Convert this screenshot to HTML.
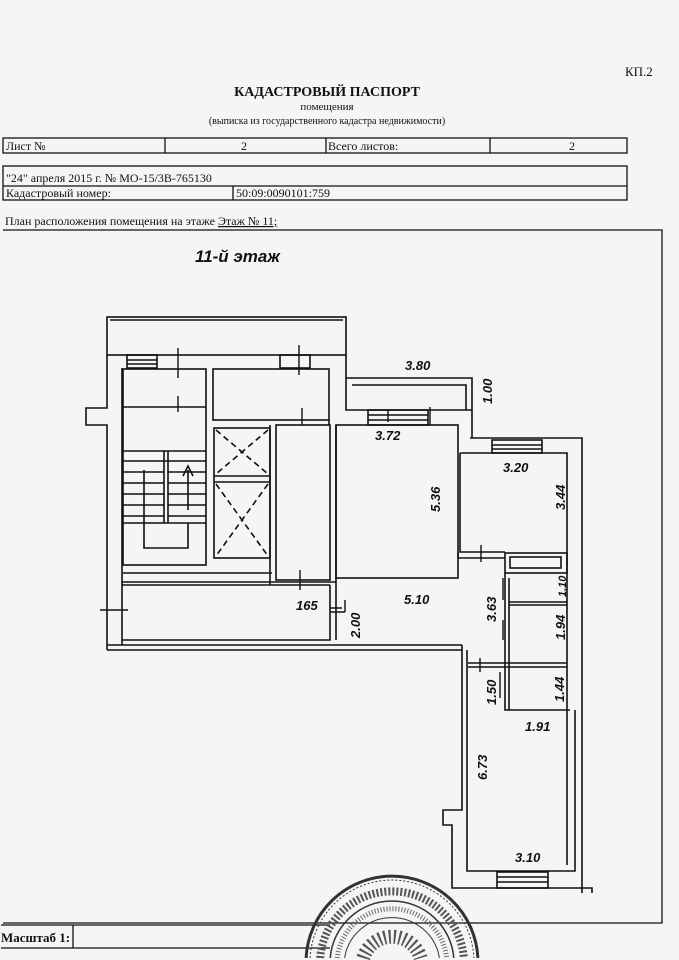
<!DOCTYPE html>
<html><head><meta charset="utf-8"><style>
html,body{margin:0;padding:0;width:679px;height:960px;overflow:hidden;background:#f4f4f2;}
svg{display:block}
.t{font-family:"Liberation Serif",serif;fill:#111}
.d{font-family:"Liberation Sans",sans-serif;font-style:italic;font-weight:bold;fill:#111;font-size:13px}
</style></head><body>
<svg width="679" height="960" viewBox="0 0 679 960" xmlns="http://www.w3.org/2000/svg">
<rect width="679" height="960" fill="#f5f5f3"/>
<text x="625" y="76" class="t" font-size="13">КП.2</text>
<text x="327" y="96" class="t" font-size="14" font-weight="bold" text-anchor="middle">КАДАСТРОВЫЙ ПАСПОРТ</text>
<text x="327" y="110" class="t" font-size="11" text-anchor="middle">помещения</text>
<text x="327" y="124" class="t" font-size="10" text-anchor="middle">(выписка из государственного кадастра недвижимости)</text>
<g stroke="#111" stroke-width="1.3" fill="none">
<rect x="3" y="138" width="624" height="15"/>
<line x1="165" y1="138" x2="165" y2="153"/><line x1="326" y1="138" x2="326" y2="153"/><line x1="490" y1="138" x2="490" y2="153"/>
<rect x="3" y="166" width="624" height="34"/><line x1="3" y1="186" x2="627" y2="186"/><line x1="233" y1="186" x2="233" y2="200"/>
<path d="M3 230 H662 V923 H3"/>
<path d="M1 925 H73 V948 H1 M73 925 H330 M73 948 H330"/>
</g>
<g class="t" font-size="12">
<text x="6" y="150">Лист №</text><text x="244" y="150" text-anchor="middle">2</text>
<text x="328" y="150">Всего листов:</text><text x="572" y="150" text-anchor="middle">2</text>
<text x="6" y="182">"24" апреля 2015 г. № МО-15/3В-765130</text>
<text x="6" y="197">Кадастровый номер:</text><text x="236" y="197">50:09:0090101:759</text>
<text x="5" y="225">План расположения помещения на этаже <tspan text-decoration="underline">Этаж № 11;</tspan></text>
<text x="1" y="942" font-weight="bold" font-size="13">Масштаб 1:</text>
</g>
<text x="195" y="262" font-family="Liberation Sans,sans-serif" font-style="italic" font-weight="bold" font-size="17" fill="#111">11-й этаж</text>
<g stroke="#111" stroke-width="1.6" fill="none">
<rect x="107" y="317" width="239" height="38"/><line x1="110" y1="320" x2="343" y2="320"/>
<path d="M107 355 V408 H86 V425 H107 V650"/>
<path d="M122 368 V645"/>
<rect x="127" y="355" width="30" height="13"/><line x1="127" y1="360" x2="157" y2="360"/><line x1="127" y1="364" x2="157" y2="364"/>
<rect x="280" y="355" width="30" height="13"/>
<rect x="123" y="369" width="83" height="196"/>
<line x1="123" y1="407" x2="206" y2="407"/>
<line x1="123" y1="451" x2="206" y2="451"/>
<path d="M123 461H206 M123 472H164 M168 472H206 M123 483H164 M168 483H206 M123 494H164 M168 494H206 M123 505H164 M168 505H206 M123 516H164 M168 516H206 M123 523H206"/>
<path d="M164 451V523 M168 451V523"/>
<path d="M144 470V548H188V523"/>
<path d="M188 510V470 M183 476L188 466L193 476"/>
<rect x="213" y="369" width="116" height="51"/>
<rect x="214" y="428" width="56" height="130"/><line x1="214" y1="476" x2="270" y2="476"/><line x1="214" y1="482" x2="270" y2="482"/>
<rect x="276" y="425" width="54" height="155"/>
<line x1="270" y1="425" x2="270" y2="585"/>
<line x1="123" y1="573" x2="272" y2="573"/>
<line x1="122" y1="582" x2="336" y2="582"/><line x1="122" y1="585" x2="330" y2="585"/>
<path d="M122 640 H330 V585"/>
<path d="M107 645 H462 M107 650 H462"/>
<rect x="336" y="425" width="122" height="153"/>
<path d="M329 420 V425 M336 425 V640"/>
<path d="M346 355 V410 H472 V378 H346 M352 385 H466 V410"/>
<rect x="368" y="410" width="60" height="15"/><line x1="368" y1="415" x2="428" y2="415"/><line x1="368" y1="420" x2="428" y2="420"/>
<path d="M472 410 V438 H582 V893 M470 438 H567"/>
<rect x="492" y="440" width="50" height="13"/><line x1="492" y1="445" x2="542" y2="445"/><line x1="492" y1="449" x2="542" y2="449"/>
<path d="M460 453 H567 V865 M460 453 V552 H505"/>
<path d="M458 552 V558 H505"/>
<rect x="505" y="553" width="62" height="20"/><rect x="510" y="557" width="51" height="11"/>
<path d="M505 573 V710 H570 M509 578 V710"/>
<line x1="509" y1="602" x2="567" y2="602"/><line x1="509" y1="605" x2="567" y2="605"/>
<line x1="468" y1="663" x2="567" y2="663"/><line x1="468" y1="667" x2="567" y2="667"/>
<path d="M462 645 V810 H443 V825 H452 V888 H592 V893"/>
<path d="M467 650 V871 H575 V710"/>
<rect x="497" y="872" width="51" height="16"/><line x1="497" y1="877" x2="548" y2="877"/><line x1="497" y1="882" x2="548" y2="882"/>
</g>
<g stroke="#111" stroke-width="1.6" stroke-dasharray="6,4">
<path d="M216 430L268 474 M268 430L216 474 M216 484L268 556 M268 484L216 556"/>
</g>
<g stroke="#111" stroke-width="1.4">
<path d="M178 348V378 M178 396V412 M299 345V375 M302 408V425 M388 410V422 M430 407V425 M481 545V562 M503 578V600 M503 620V640 M480 658V672 M500 672V698 M300 570V590 M100 610H128 M345 600V612 M330 612H345 M330 608H342"/>
</g>
<g class="d">
<text x="405" y="370">3.80</text>
<text x="375" y="440">3.72</text>
<text x="503" y="472">3.20</text>
<text x="404" y="604">5.10</text>
<text x="296" y="610">165</text>
<text x="515" y="862">3.10</text>
<text x="525" y="731">1.91</text>
<text transform="translate(492,404) rotate(-90)">1.00</text>
<text transform="translate(440,512) rotate(-90)">5.36</text>
<text transform="translate(565,510) rotate(-90)">3.44</text>
<text transform="translate(360,638) rotate(-90)">2.00</text>
<text transform="translate(496,622) rotate(-90)">3.63</text>
<text transform="translate(566,597) rotate(-90)" font-size="11">1.10</text>
<text transform="translate(565,640) rotate(-90)">1.94</text>
<text transform="translate(496,705) rotate(-90)">1.50</text>
<text transform="translate(564,702) rotate(-90)">1.44</text>
<text transform="translate(487,780) rotate(-90)">6.73</text>
</g>
<g fill="none" stroke="#333">
<path d="M306.1 958 A86 86 0 0 1 477.9 958" stroke-width="3"/>
<path d="M310.1 958 A82 82 0 0 1 473.9 958" stroke-width="1" stroke-dasharray="2,2"/>
<path d="M320.2 958 A72 72 0 0 1 463.8 958" stroke-width="8" stroke-dasharray="2,2" stroke="#555"/>
<path d="M330.2 958 A62 62 0 0 1 453.8 958" stroke-width="1.5"/>
<path d="M337.3 958 A55 55 0 0 1 446.7 958" stroke-width="5" stroke-dasharray="1,2" stroke="#666"/>
<path d="M344.6 958 A48 48 0 0 1 439.4 958" stroke-width="1"/>
<path d="M363.3 958 A30 30 0 0 1 420.7 958" stroke-width="14" stroke-dasharray="2,3" stroke="#555"/>
</g>
</svg>
</body></html>
